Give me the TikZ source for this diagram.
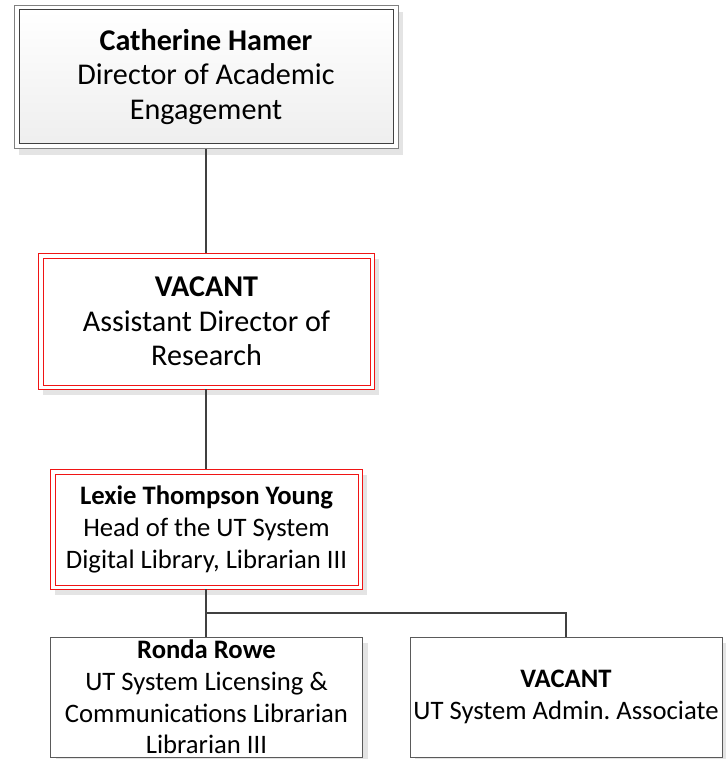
\documentclass[tikz,border=0pt]{standalone}
\usepackage{fontspec}
\setmainfont{Carlito}
\usepackage{tikz}
\usetikzlibrary{shadows, positioning}
\definecolor{linkgray}{RGB}{64,64,64}
\definecolor{framegray}{RGB}{128,128,128}
\definecolor{boxgray}{RGB}{90,90,90}
\definecolor{shadowgray}{RGB}{228,228,228}
\definecolor{vacantred}{RGB}{240,20,20}
\frenchspacing
\tikzset{
  frame/.style={
    draw,
    fill=white,
    inner sep=0pt,
    outer sep=0pt,
    line width=0.75pt,
    drop shadow={shadow xshift=3.75pt, shadow yshift=-4.5pt, fill=shadowgray, opacity=1}
  },
  inner/.style={
    draw,
    inner sep=0pt,
    outer sep=0pt,
    line width=0.75pt,
    align=center
  },
  bigtext/.style={font=\fontsize{22.6}{25.8}\selectfont},
  smalltext/.style={font=\fontsize{20}{23.8}\selectfont},
  chiefout/.style={frame, draw=framegray, minimum width=288pt, minimum height=107.25pt},
  chiefin/.style={inner, bigtext, draw=linkgray, top color=white, bottom color=gray!13,
    minimum width=280.5pt, minimum height=100.5pt},
  adout/.style={frame, draw=vacantred, minimum width=252pt, minimum height=102pt},
  adin/.style={inner, bigtext, draw=vacantred, fill=white, minimum width=245.25pt, minimum height=95.25pt},
  headout/.style={frame, draw=vacantred, minimum width=234pt, minimum height=90pt},
  headin/.style={inner, smalltext, draw=vacantred, fill=white, minimum width=227.25pt, minimum height=83.25pt},
  staff/.style={frame, smalltext, draw=boxgray, align=center, minimum width=234pt, minimum height=90pt},
  link/.style={draw=linkgray, line width=1.7pt}
}

\begin{document}
\begin{tikzpicture}[x=0.75pt, y=-0.75pt]
  \useasboundingbox (0,0) rectangle (725,759);

  % director
  \node[chiefout] (dirout) at (206,77.5) {};
  \node[chiefin] (dir) at (206,77) {\textbf{Catherine Hamer}\\Director of Academic\\Engagement};

  % assistant director
  \node[adout] (adout) at (206,321) {};
  \node[adin] (ad) at (206.5,321.5) {\textbf{VACANT}\\Assistant Director of\\Research};

  % head of digital library
  \node[headout] (headout) at (206,529) {};
  \node[headin] (head) at (206.5,529.5) {\textbf{Lexie Thompson Young}\\Head of the UT System\\Digital Library, Librarian III};

  % staff
  \node[staff] (ronda) at (206.5,697) {\textbf{Ronda Rowe}\\UT System Licensing \&\\Communications Librarian\\Librarian III};
  \node[staff] (admin) at (566,697) {\textbf{VACANT}\\UT System Admin. Associate};

  \coordinate (split) at (206,613);

  \draw[link] (dirout.south) -- (adout.north);
  \draw[link] (adout.south) -- (headout.north);
  \draw[link] (headout.south) -- (headout.south |- ronda.north);
  \draw[link] (split) -| (admin.north);
\end{tikzpicture}
\end{document}
